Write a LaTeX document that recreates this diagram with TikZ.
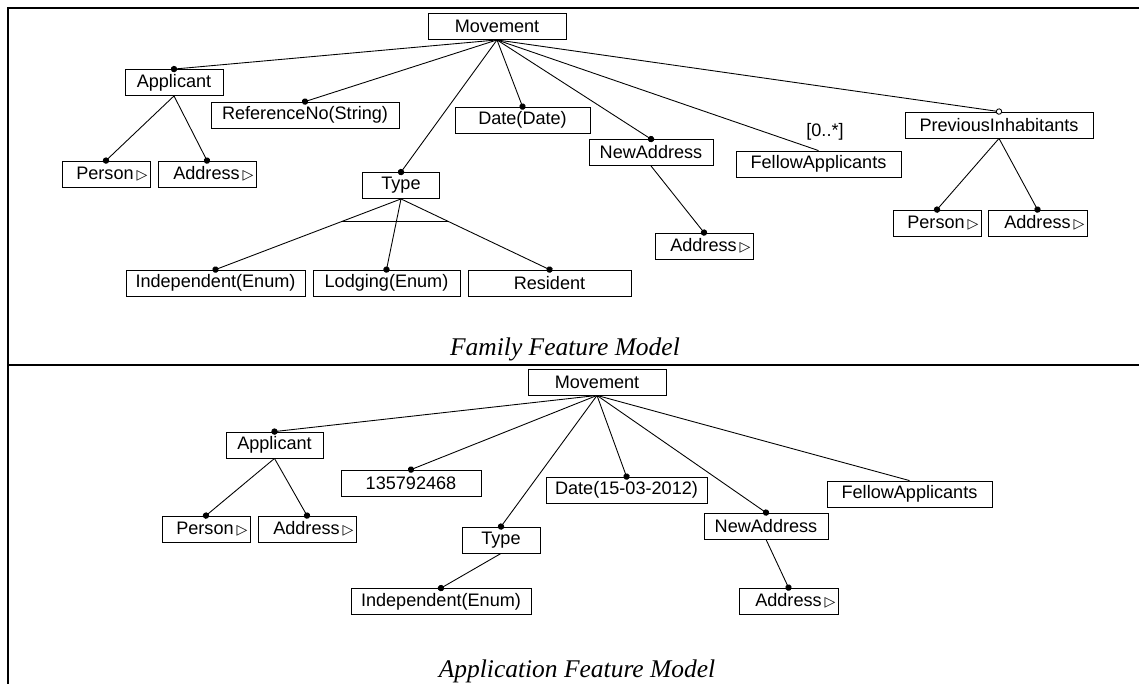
\documentclass[tikz,border=0pt]{standalone}
\usepackage{fontspec}
\setmainfont{Liberation Sans}
\newfontfamily\capfont{Liberation Serif}
\newfontfamily\symfont{DejaVu Sans}
\usetikzlibrary{arrows.meta}
\newcommand{\rtri}{\,\raisebox{0.3pt}{\symfont\fontsize{8pt}{9pt}\selectfont ▷}}

\begin{document}
\begin{tikzpicture}[
    x=0.02cm, y=-0.02cm,
    feat/.style={rectangle, draw=black, line width=0.5pt, inner sep=0pt, minimum height=0.52cm, minimum width=#1*0.02cm, font=\fontsize{10.3pt}{12pt}\selectfont},
    featr/.style={feat=#1, align=right, text width=#1*0.02cm-0.1cm},
    mand/.style={line width=0.5pt, -{Circle[length=3.6pt]}, shorten >=-1.8pt},
    opt/.style={line width=0.5pt, -{Circle[open, length=3.6pt, fill=white]}, shorten >=-1.8pt},
    link/.style={line width=0.5pt},
    frame/.style={line width=1.2pt},
    caption/.style={font=\capfont\itshape\fontsize{14.5pt}{17pt}\selectfont}
]
\useasboundingbox (0,0) rectangle (1139,684);
% Frame
\draw[frame] (1139,8) -- (8,8) -- (8,684);
\draw[frame] (8,365) -- (1139,365);
% Family feature model
\node[feat=138] (mov) at (497,26.5) {Movement};
\node[feat=98] (app) at (174,82.5) {Applicant};
\node[feat=188] (refno) at (305,115) {ReferenceNo(String)};
\node[featr=88] (per) at (106,174) {Person\rtri};
\node[featr=98] (adr) at (207,174) {Address\rtri};
\node[feat=135] (date) at (522.5,120) {Date(Date)};
\node[feat=124] (newadr) at (651,152.5) {NewAddress};
\node[featr=98] (newadrsub) at (704,246) {Address\rtri};
\node[feat=77] (typ) at (401,185.5) {Type};
\node[feat=179] (indep) at (215.5,283) {Independent(Enum)};
\node[feat=147] (lodg) at (386.5,283) {Lodging(Enum)};
\node[feat=163] (resid) at (549.5,283) {Resident};
\node[feat=165] (fellow) at (818.5,164) {FellowApplicants};
\node[font=\fontsize{10.3pt}{12pt}\selectfont] (card) at (825,132) {[0..*]};
\node[feat=188] (prev) at (999,125) {PreviousInhabitants};
\node[featr=88] (prevper) at (937,223) {Person\rtri};
\node[featr=99] (prevadr) at (1037.5,223) {Address\rtri};
\node[caption] (famtitle) at (565,349) {Family Feature Model};
% Connectors
\draw[mand] (mov.south) -- (app.north);
\draw[mand] (mov.south) -- (refno.north);
\draw[mand] (mov.south) -- (date.north);
\draw[mand] (mov.south) -- (typ.north);
\draw[mand] (mov.south) -- (newadr.north);
\draw[link] (mov.south) -- (fellow.north);
\draw[opt] (mov.south) -- (prev.north);
\draw[mand] (app.south) -- (per.north);
\draw[mand] (app.south) -- (adr.north);
\draw[mand] (newadr.south) -- (newadrsub.north);
\draw[mand] (prev.south) -- (prevper.north);
\draw[mand] (prev.south) -- (prevadr.north);
\draw[mand] (typ.south) -- coordinate[pos=0.32] (altl) (indep.north);
\draw[mand] (typ.south) -- (lodg.north);
\draw[mand] (typ.south) -- coordinate[pos=0.32] (altr) (resid.north);
\draw[link] (altl) -- (altr);
% Application feature model
\node[feat=138] (mov2) at (597,382) {Movement};
\node[feat=97] (app2) at (274.5,445) {Applicant};
\node[feat=140] (refno2) at (411,483) {135792468};
\node[featr=88] (per2) at (206,529) {Person\rtri};
\node[featr=98] (adr2) at (307,529) {Address\rtri};
\node[feat=161] (date2) at (626.5,490) {Date(15-03-2012)};
\node[feat=124] (newadr2) at (766,526) {NewAddress};
\node[featr=99] (newadrsub2) at (788.5,601) {Address\rtri};
\node[feat=78] (typ2) at (501,540) {Type};
\node[feat=180] (indep2) at (441,601.5) {Independent(Enum)};
\node[feat=165] (fellow2) at (909.5,494) {FellowApplicants};
\node[caption] (apptitle) at (577,671) {Application Feature Model};
% Connectors
\draw[mand] (mov2.south) -- (app2.north);
\draw[mand] (mov2.south) -- (refno2.north);
\draw[mand] (mov2.south) -- (date2.north);
\draw[mand] (mov2.south) -- (typ2.north);
\draw[mand] (mov2.south) -- (newadr2.north);
\draw[link] (mov2.south) -- (fellow2.north);
\draw[mand] (app2.south) -- (per2.north);
\draw[mand] (app2.south) -- (adr2.north);
\draw[mand] (newadr2.south) -- (newadrsub2.north);
\draw[mand] (typ2.south) -- (indep2.north);
\end{tikzpicture}
\end{document}
